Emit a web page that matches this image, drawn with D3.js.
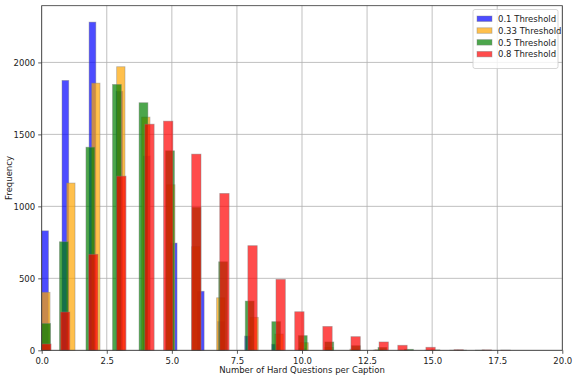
<!DOCTYPE html>
<html>
<head>
<meta charset="utf-8">
<script src="https://cdn.jsdelivr.net/npm/d3@7"></script>
<style>
  body { margin: 0; background: #fff; }
  text { font-family: "DejaVu Sans", sans-serif; }
</style>
</head>
<body>
<div id="chart"></div>
<script>
// counts per number of hard questions (index = value 0, 1, 2, ...)
const seriesNames = ["0.1 Threshold", "0.33 Threshold", "0.5 Threshold", "0.8 Threshold"];
const seriesColors = ["blue", "orange", "green", "red"];
const blueCounts = [830, 1875, 2280, 1800, 1350, 745, 410, 200, 99, 42, 12, 4, 2, 1];
const orangeCounts = [403, 1162, 1856, 1970, 1620, 1150, 720, 365, 229, 113, 53, 20, 8, 4, 2, 1, 1];
const greenCounts = [187, 754, 1411, 1847, 1720, 1386, 993, 615, 342, 199, 102, 58, 32, 20, 7, 3, 1, 1];
const redCounts = [44, 266, 667, 1210, 1571, 1592, 1363, 1090, 727, 493, 268, 166, 95, 58, 35, 21, 4, 3, 2];
const xTicks = [0, 2.5, 5, 7.5, 10, 12.5, 15, 17.5, 20];
const yTicks = [0, 500, 1000, 1500, 2000];
const nBins = 50;

let margin = {top: 5.7, right: 13.7, bottom: 29.7, left: 41.7},
    width = 576 - margin.left - margin.right,
    height = 380 - margin.top - margin.bottom;

let allCounts = [blueCounts, orangeCounts, greenCounts, redCounts];

// matplotlib style binning: 50 equal bins over [min, max] of each series
let series = allCounts.map((counts, s) => {
    let maxV = counts.length - 1;
    let bars = counts.map((c, v) => {
        let idx = Math.min(Math.floor(v * nBins / maxV), nBins - 1);
        return {x0: idx * maxV / nBins, x1: (idx + 1) * maxV / nBins, count: c};
    });
    return {name: seriesNames[s], color: seriesColors[s], bars: bars};
});

let svg = d3.select("#chart")
    .append("svg")
    .attr("width", 576)
    .attr("height", 380);

let g = svg.append("g")
    .attr("transform", "translate(" + margin.left + "," + margin.top + ")");

let x = d3.scaleLinear().domain([0, 20]).range([0, width]);
let yMax = d3.max(allCounts, c => d3.max(c)) * 1.05;
let y = d3.scaleLinear().domain([0, yMax]).range([height, 0]);

// grid
g.append("g").selectAll("line").data(xTicks).enter().append("line")
    .attr("x1", d => x(d)).attr("x2", d => x(d))
    .attr("y1", 0).attr("y2", height)
    .attr("stroke", "#b0b0b0").attr("stroke-width", 0.8);
g.append("g").selectAll("line").data(yTicks).enter().append("line")
    .attr("x1", 0).attr("x2", width)
    .attr("y1", d => y(d)).attr("y2", d => y(d))
    .attr("stroke", "#b0b0b0").attr("stroke-width", 0.8);

// bars
series.forEach(s => {
    g.append("g").selectAll("rect")
        .data(s.bars.filter(b => b.count > 0))
        .enter().append("rect")
        .attr("x", d => x(d.x0))
        .attr("width", d => x(d.x1) - x(d.x0))
        .attr("y", d => y(d.count))
        .attr("height", d => y(0) - y(d.count))
        .attr("fill", s.color)
        .attr("fill-opacity", 0.7)
        .attr("stroke", "gray")
        .attr("stroke-opacity", 0.5)
        .attr("stroke-width", 0.8);
});

// axes
let xAxis = g.append("g")
    .attr("transform", "translate(0," + height + ")")
    .call(d3.axisBottom(x).tickValues(xTicks).tickFormat(d3.format(".1f")).tickSizeOuter(0).tickSize(3.5));
let yAxis = g.append("g")
    .call(d3.axisLeft(y).tickValues(yTicks).tickFormat(d3.format("d")).tickSizeOuter(0).tickSize(3.5));
[xAxis, yAxis].forEach(a => {
    a.select(".domain").remove();
    a.selectAll("text").attr("font-size", 8.5).attr("fill", "#222").attr("font-family", "DejaVu Sans");
    a.selectAll("line").attr("stroke", "#333").attr("stroke-width", 0.8);
});
xAxis.selectAll("text").attr("dy", "0.9em");

// frame
g.append("rect")
    .attr("width", width).attr("height", height)
    .attr("fill", "none").attr("stroke", "#333").attr("stroke-width", 0.8);

// labels
svg.append("text")
    .attr("x", margin.left + width / 2).attr("y", 373)
    .attr("text-anchor", "middle").attr("font-size", 8.5).attr("fill", "#222")
    .text("Number of Hard Questions per Caption");
svg.append("text")
    .attr("transform", "translate(12," + (margin.top + height / 2) + ") rotate(-90)")
    .attr("text-anchor", "middle").attr("font-size", 8.5).attr("fill", "#222")
    .text("Frequency");

// legend
let lg = svg.append("g").attr("transform", "translate(473,9.5)");
lg.append("rect")
    .attr("width", 85).attr("height", 59).attr("rx", 2)
    .attr("fill", "white").attr("fill-opacity", 0.8)
    .attr("stroke", "#ccc").attr("stroke-width", 0.8);
let items = lg.selectAll("g.item").data(series).enter().append("g")
    .attr("transform", (d, i) => "translate(4," + (6.5 + i * 11.8) + ")");
items.append("rect")
    .attr("width", 15).attr("height", 5.5)
    .attr("fill", d => d.color).attr("fill-opacity", 0.7)
    .attr("stroke", "gray").attr("stroke-opacity", 0.5).attr("stroke-width", 0.8);
items.append("text")
    .attr("x", 21).attr("y", 3).attr("dy", "0.35em")
    .attr("font-size", 8.5).attr("fill", "#222")
    .text(d => d.name);
</script>
</body>
</html>
